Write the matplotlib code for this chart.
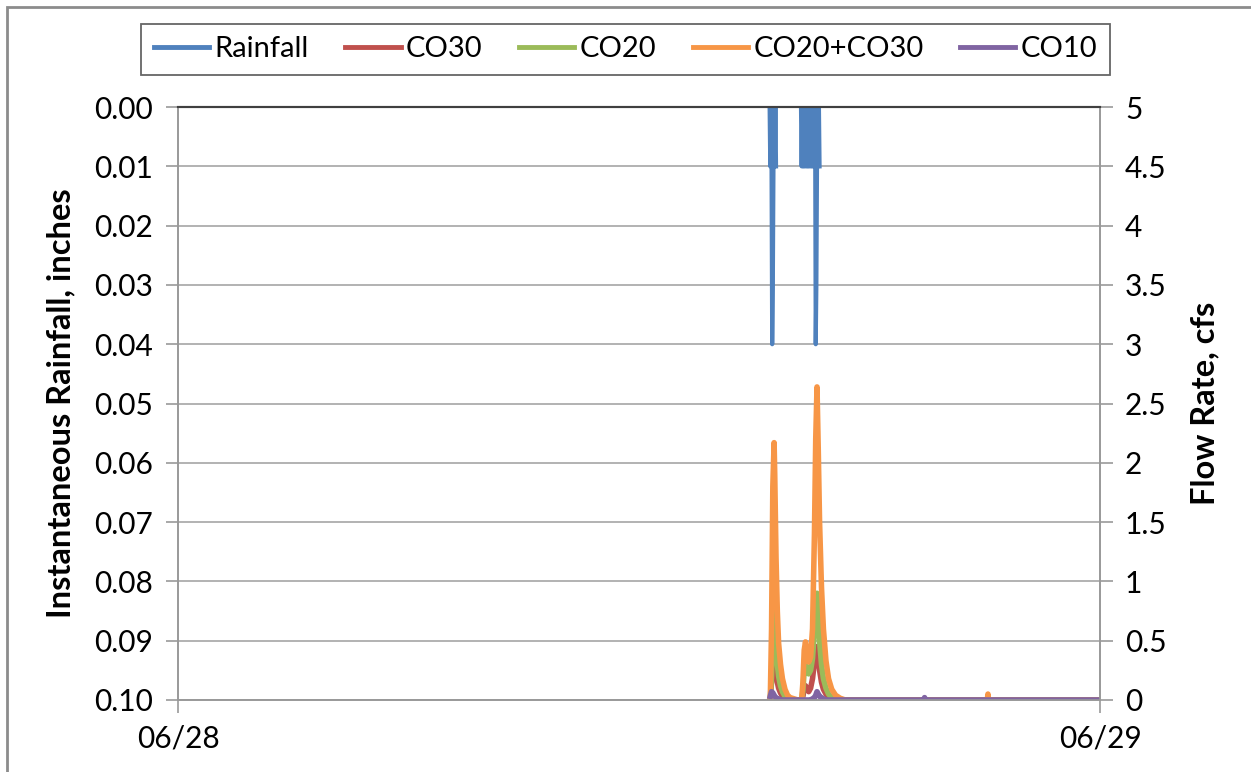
import matplotlib.pyplot as plt
from matplotlib.patches import Rectangle
import numpy as np

plt.rcParams['font.family'] = ['Lato', 'DejaVu Sans']

# time in minutes after 06/28 00:00
day_ticks = [0, 1440]
day_labels = ['06/28', '06/29']

# rainfall bursts (inches), one reading per minute
rain_t1 = [924, 925, 926, 927, 928, 929, 930, 931, 932, 933, 934]
rain_v1 = [0, 0.01, 0, 0.01, 0.04, 0.03, 0.01, 0, 0.01, 0, 0.01]
rain_t2 = [973, 974, 975, 976, 977, 978, 979, 980, 981, 982, 983, 984, 985, 986,
           987, 988, 989, 990, 991, 992, 993, 994, 995, 996, 997, 998, 999, 1000,
           1001, 1002]
rain_v2 = [0, 0.01, 0, 0.01, 0, 0.01, 0, 0.01, 0, 0.01, 0, 0.01, 0, 0.01,
           0, 0.01, 0, 0.01, 0, 0.01, 0, 0.01, 0, 0.04, 0.03, 0.01, 0, 0.01,
           0, 0.01]

# flow rates (cfs)
flow_t = [925, 927, 929, 931, 932, 934, 936, 938, 941, 944, 948, 952, 956, 962,
          968, 974, 976, 978, 980, 982, 985, 988, 991, 994, 996, 998, 1000, 1002,
          1005, 1008, 1012, 1016, 1021, 1027, 1034, 1042, 1060, 1100, 1130, 1165,
          1166, 1167, 1200, 1264, 1265, 1266, 1300, 1350, 1400, 1440]
co30 = [0, 0.15, 0.4, 0.5, 0.42, 0.25, 0.15, 0.1, 0.06, 0.03, 0.01, 0, 0, 0,
        0, 0, 0.03, 0.1, 0.12, 0.1, 0.07, 0.1, 0.18, 0.32, 0.42, 0.45, 0.35, 0.25,
        0.15, 0.09, 0.05, 0.02, 0.01, 0, 0, 0, 0, 0, 0, 0,
        0, 0, 0, 0, 0, 0, 0, 0, 0, 0]
co20 = [0, 0.2, 0.6, 0.85, 0.75, 0.45, 0.3, 0.2, 0.12, 0.07, 0.03, 0.01, 0, 0,
        0, 0, 0.08, 0.25, 0.3, 0.27, 0.22, 0.25, 0.35, 0.6, 0.8, 0.9, 0.7, 0.5,
        0.3, 0.18, 0.1, 0.05, 0.02, 0.01, 0, 0, 0, 0, 0, 0,
        0, 0, 0, 0, 0, 0, 0, 0, 0, 0]
co20_co30 = [0, 0.6, 1.8, 2.17, 1.9, 1.2, 0.75, 0.48, 0.3, 0.18, 0.09, 0.04, 0.02, 0.01,
             0, 0, 0.15, 0.42, 0.49, 0.42, 0.32, 0.36, 0.6, 1.4, 2.2, 2.64, 2.1, 1.5,
             0.95, 0.6, 0.33, 0.18, 0.09, 0.04, 0.015, 0, 0, 0, 0, 0,
             0, 0, 0, 0, 0.05, 0, 0, 0, 0, 0]
co10 = [0.03, 0.07, 0.06, 0.04, 0.03, 0.02, 0.01, 0.01, 0, 0, 0, 0, 0, 0,
        0, 0, 0, 0, 0, 0, 0, 0, 0.01, 0.02, 0.04, 0.07, 0.05, 0.03,
        0.02, 0.01, 0, 0, 0, 0, 0, 0, 0, 0, 0, 0,
        0.02, 0, 0, 0, 0, 0, 0, 0, 0, 0]

blue = '#4F81BD'
red = '#C0504D'
green = '#9BBB59'
orange = '#F79646'
purple = '#8064A2'
grid_c = '#A6A6A6'

fig = plt.figure(figsize=(12.51, 7.72), dpi=100)
ax1 = fig.add_axes([0.1423, 0.0933, 0.737, 0.768])
ax2 = ax1.twinx()

# rainfall on the inverted left axis, gaps between bursts
rain_t = rain_t1 + [np.nan] + rain_t2
rain_v = rain_v1 + [np.nan] + rain_v2
ax1.plot(rain_t, rain_v, color=blue, lw=3, label='Rainfall')
ax1.set_ylim(0.10, 0.0)
ax1.set_yticks(np.arange(0, 0.101, 0.01))
ax1.set_yticklabels(['%.2f' % v for v in np.arange(0, 0.101, 0.01)])
ax1.yaxis.grid(True, color=grid_c, lw=1.2)
ax1.set_axisbelow(True)
ax1.set_xlim(0, 1440)
ax1.set_xticks(day_ticks)
ax1.set_xticklabels(day_labels)
ax1.set_ylabel('Instantaneous Rainfall, inches', fontsize=23.5, fontweight='bold')
ax1.yaxis.set_label_coords(-0.111, 0.5)

ax2.plot(flow_t, co30, color=red, lw=4, label='CO30')
ax2.plot(flow_t, co20, color=green, lw=4, label='CO20')
ax2.plot(flow_t, co20_co30, color=orange, lw=4, label='CO20+CO30')
ax2.plot(flow_t, co10, color=purple, lw=4, label='CO10')
ax2.set_ylim(0, 5)
ax2.set_yticks([0, 0.5, 1, 1.5, 2, 2.5, 3, 3.5, 4, 4.5, 5])
ax2.set_yticklabels(['0', '0.5', '1', '1.5', '2', '2.5', '3', '3.5', '4', '4.5', '5'])
ax2.set_ylabel('Flow Rate, cfs', fontsize=23.5, fontweight='bold')
ax2.yaxis.set_label_coords(1.0976, 0.5)

for ax in (ax1, ax2):
    for side in ('left', 'right', 'bottom'):
        ax.spines[side].set_color('#999999')
        ax.spines[side].set_linewidth(1.2)
    ax.spines['top'].set_color('#404040')
    ax.spines['top'].set_linewidth(1.5)
    ax.tick_params(axis='both', labelsize=21.5, color='#999999', length=9, width=1.2,
                   direction='out', pad=9)

h1, l1 = ax1.get_legend_handles_labels()
h2, l2 = ax2.get_legend_handles_labels()
leg = fig.legend(h1 + h2, l1 + l2, loc='center', bbox_to_anchor=(0.5, 0.936),
                 ncol=5, fontsize=21, frameon=True, fancybox=False,
                 handlelength=1.9, handletextpad=0.18, columnspacing=1.25,
                 borderpad=0.42, borderaxespad=0)
leg.get_frame().set_edgecolor('#404040')
leg.get_frame().set_linewidth(1.3)
for line in leg.get_lines():
    line.set_linewidth(3.5)

# outer chart frame
fig.patches.append(Rectangle((7 / 1251, -0.02), 1.1, 1 - 7 / 772 + 0.02,
                             transform=fig.transFigure, fill=False,
                             edgecolor='#8C8C8C', lw=2))

fig.savefig('out.png', dpi=100)
